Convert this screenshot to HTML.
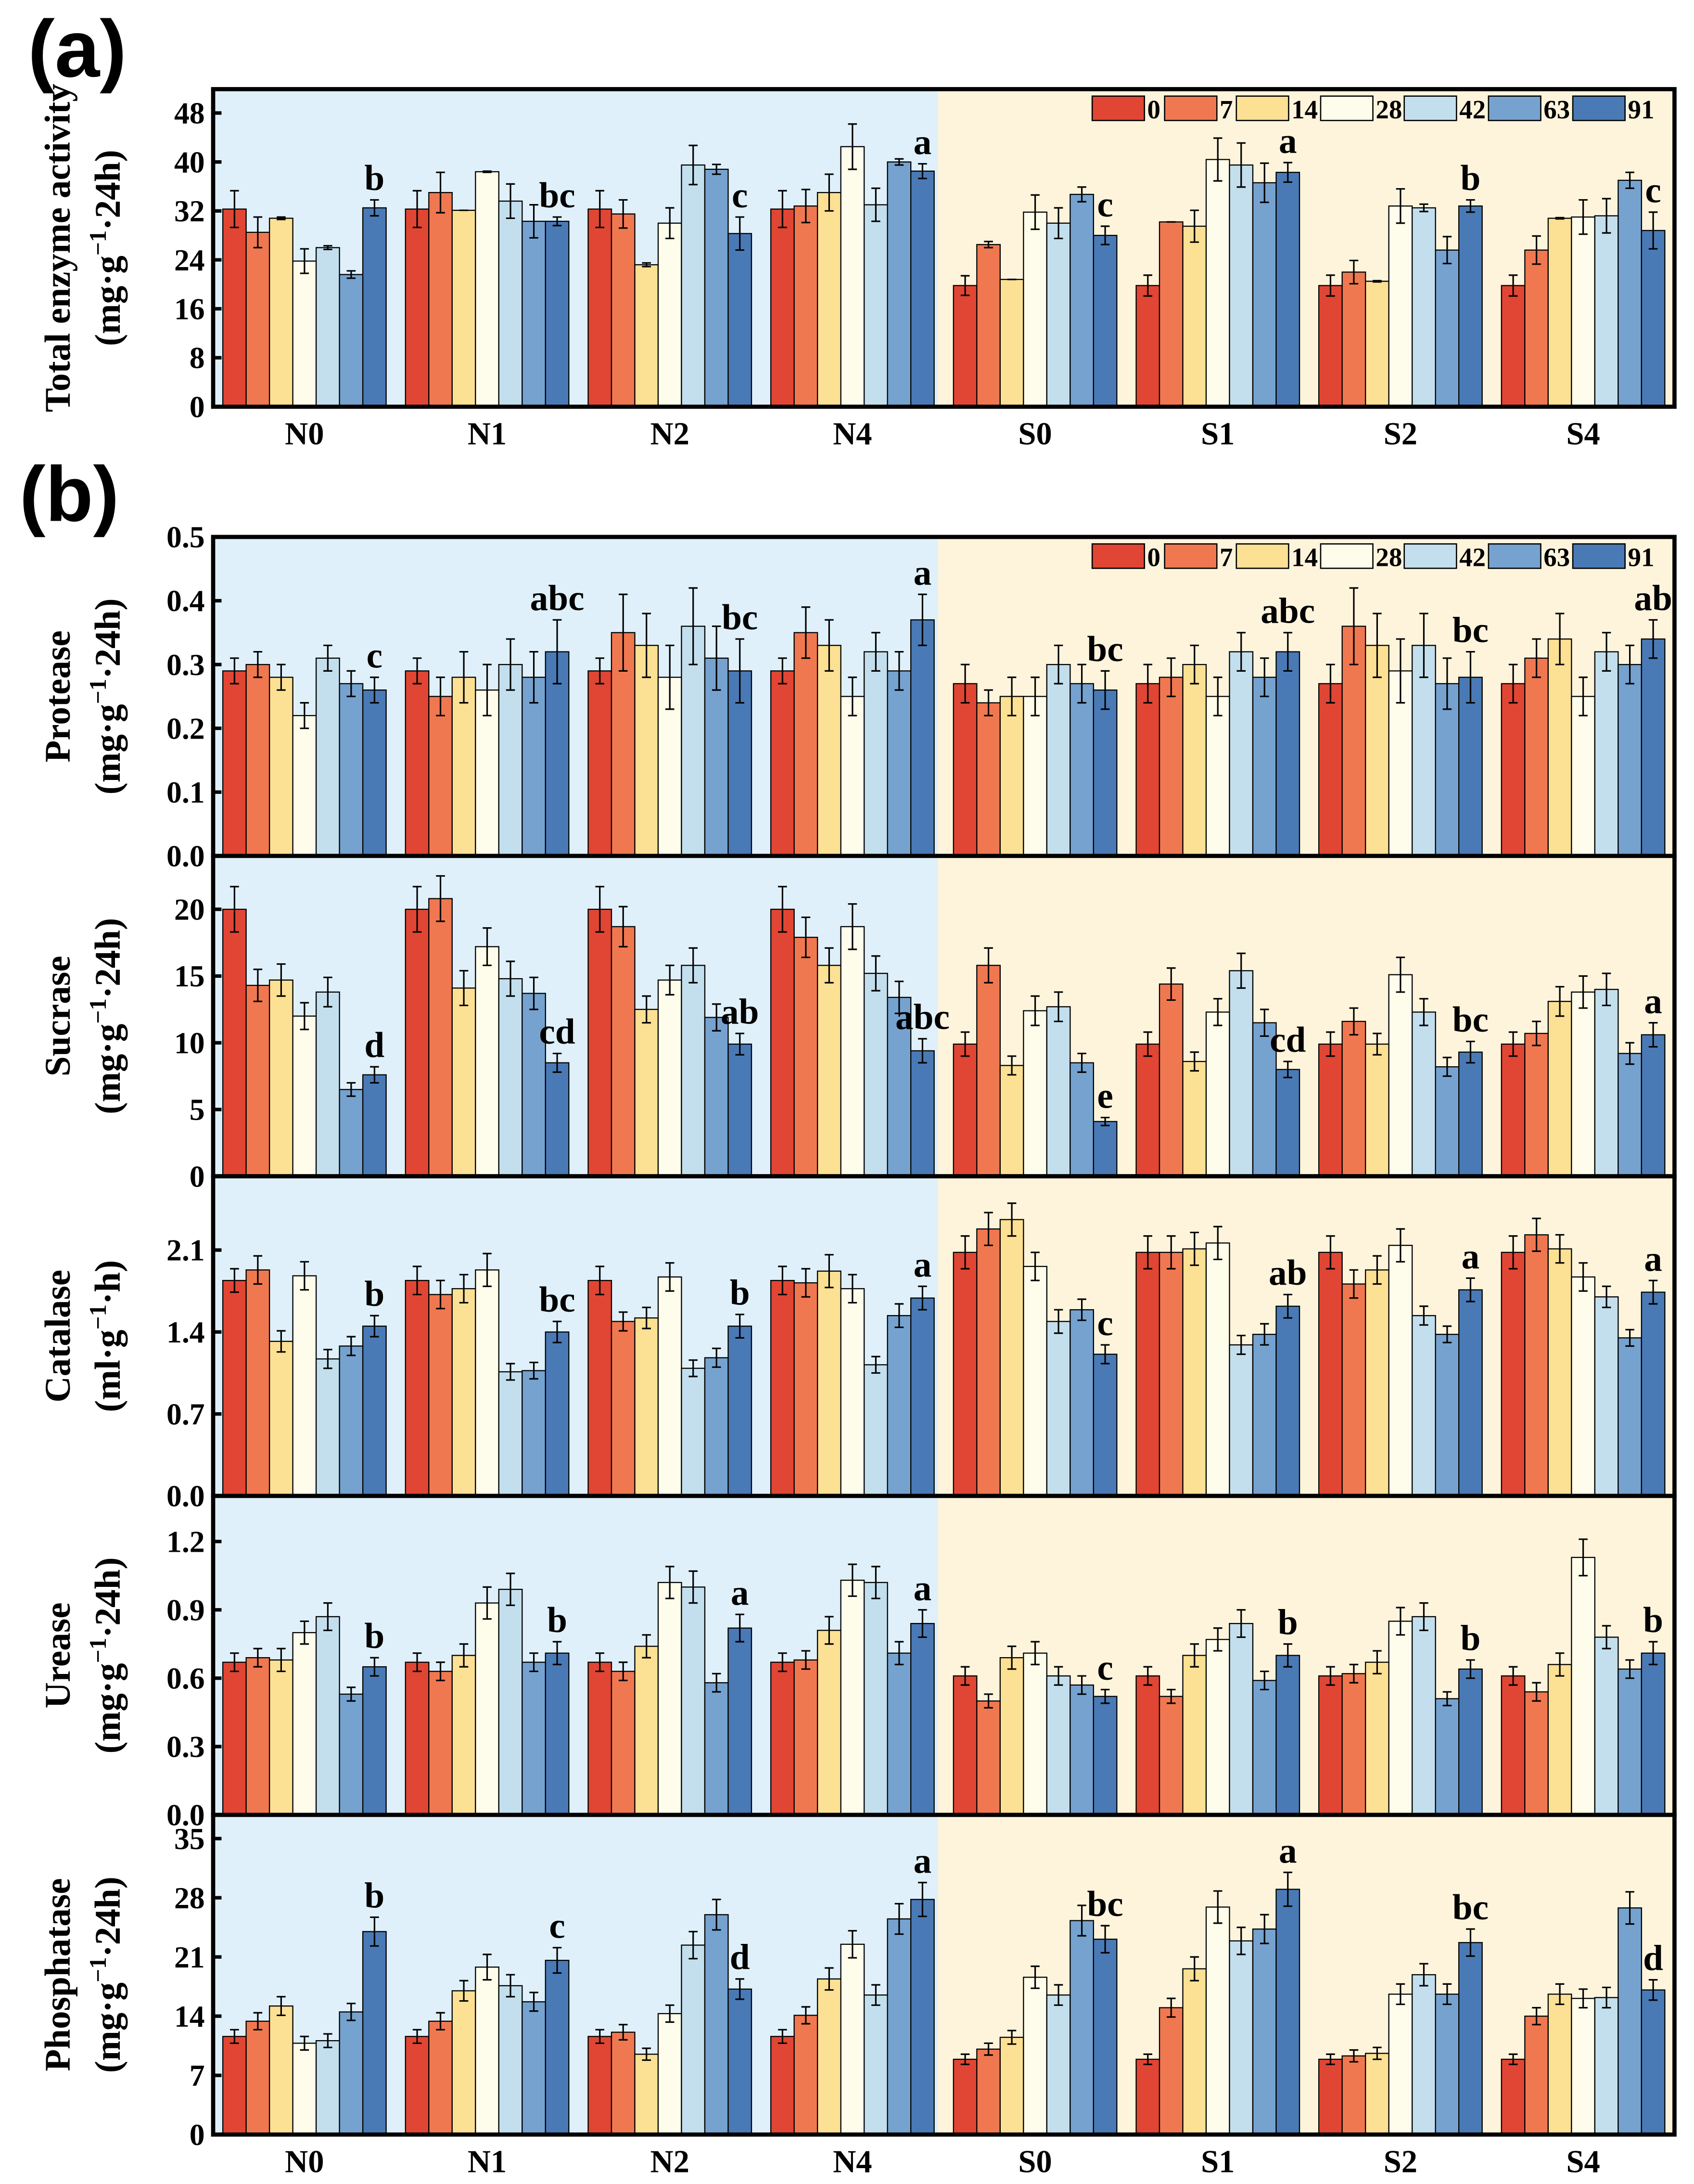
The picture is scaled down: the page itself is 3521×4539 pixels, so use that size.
<!DOCTYPE html>
<html><head><meta charset="utf-8"><style>
html,body{margin:0;padding:0;background:#fff;}
svg{display:block;}
text{font-family:"Liberation Serif",serif;font-weight:bold;fill:#000;}
</style></head><body>
<svg id="fig" xmlns="http://www.w3.org/2000/svg" width="3521" height="4539" viewBox="0 0 1216 1568" preserveAspectRatio="none"></svg>
<script>
const groups = ["N0","N1","N2","N4","S0","S1","S2","S4"];
const days = ["0","7","14","28","42","63","91"];
const colors = ["#E04633","#F07850","#FCE093","#FEFDEB","#C3DFEE","#76A2CF","#4A7AB5"];

const totalVals = [[32.3,28.5,30.8,23.8,26,21.6,32.5],[32.3,35,32.1,38.4,33.6,30.3,30.3],[32.3,31.5,23.2,30,39.5,38.8,28.3],[32.3,32.8,35,42.5,33,40,38.5],[19.8,26.5,20.8,31.8,30,34.7,28],[19.8,30.2,29.5,40.4,39.5,36.6,38.3],[19.8,22,20.5,32.8,32.5,25.6,32.8],[19.8,25.6,30.8,31,31.2,37,28.8]];
const totalErr = [[3,2.5,0.2,2,0.3,0.6,1.3],[3,3.3,0,0.1,2.8,2.7,0.7],[3,2.3,0.3,2.5,3.2,0.8,2.7],[3,2.7,3,3.7,2.7,0.5,1.2],[1.6,0.5,0,2.8,2.5,1.2,1.5],[1.7,0,2.6,3.5,3.6,3.2,1.6],[1.7,1.9,0.1,2.8,0.6,2.2,1],[1.7,2.3,0.1,2.8,2.8,1.3,3]];
const totalLetters = ["b","bc","c","a","c","a","b","c"];

const proteaseVals = [[.29,.30,.28,.22,.31,.27,.26],[.29,.25,.28,.26,.30,.28,.32],[.29,.35,.33,.28,.36,.31,.29],[.29,.35,.33,.25,.32,.29,.37],[.27,.24,.25,.25,.30,.27,.26],[.27,.28,.30,.25,.32,.28,.32],[.27,.36,.33,.29,.33,.27,.28],[.27,.31,.34,.25,.32,.30,.34]];
const proteaseErr = [[.02,.02,.02,.02,.02,.02,.02],[.02,.03,.04,.04,.04,.04,.05],[.02,.06,.05,.05,.06,.05,.05],[.02,.04,.04,.03,.03,.03,.04],[.03,.02,.03,.03,.03,.03,.03],[.03,.03,.03,.03,.03,.03,.03],[.03,.06,.05,.05,.05,.04,.04],[.03,.03,.04,.03,.03,.03,.03]];
const proteaseLetters = ["c","abc","bc","a","bc","abc","bc","ab"];

const sucraseVals = [[20,14.3,14.7,12,13.8,6.5,7.6],[20,20.8,14.1,17.2,14.8,13.7,8.5],[20,18.7,12.5,14.7,15.8,11.9,9.9],[20,17.9,15.8,18.7,15.2,13.4,9.4],[9.9,15.8,8.3,12.4,12.7,8.5,4.1],[9.9,14.4,8.6,12.3,15.4,11.5,8],[9.9,11.6,9.9,15.1,12.3,8.2,9.3],[9.9,10.7,13.1,13.8,14,9.2,10.6]];
const sucraseErr = [[1.7,1.2,1.2,1,1.1,0.5,0.6],[1.7,1.7,1.3,1.4,1.3,1.2,0.7],[1.7,1.5,1,1.1,1.3,1,0.8],[1.7,1.5,1.3,1.7,1.3,1.2,0.9],[0.9,1.3,0.7,1.1,1.1,0.7,0.3],[0.9,1.2,0.7,1,1.3,1,0.6],[0.9,1,0.8,1.3,1,0.7,0.8],[0.9,0.9,1.1,1.2,1.2,0.8,0.9]];
const sucraseLetters = ["d","cd","ab","abc","e","cd","bc","a"];

const catalaseVals = [[1.84,1.93,1.32,1.88,1.17,1.28,1.45],[1.84,1.72,1.77,1.93,1.06,1.07,1.4],[1.84,1.49,1.52,1.87,1.09,1.18,1.45],[1.84,1.82,1.92,1.77,1.12,1.54,1.69],[2.08,2.28,2.36,1.96,1.49,1.59,1.21],[2.08,2.08,2.11,2.16,1.29,1.38,1.62],[2.08,1.81,1.93,2.14,1.54,1.38,1.76],[2.08,2.23,2.11,1.87,1.7,1.35,1.74]];
const catalaseErr = [[.1,.12,.09,.12,.08,.08,.09],[.12,.12,.12,.14,.07,.07,.09],[.12,.08,.09,.12,.07,.08,.1],[.12,.12,.14,.12,.07,.1,.1],[.14,.14,.14,.12,.1,.09,.08],[.14,.14,.14,.14,.08,.09,.1],[.14,.12,.12,.14,.08,.07,.1],[.14,.14,.12,.12,.09,.07,.1]];
const catalaseLetters = ["b","bc","b","a","c","ab","a","a"];

const ureaseVals = [[.67,.69,.68,.80,.87,.53,.65],[.67,.63,.70,.93,.99,.67,.71],[.67,.63,.74,1.02,1.00,.58,.82],[.67,.68,.81,1.03,1.02,.71,.84],[.61,.50,.69,.71,.61,.57,.52],[.61,.52,.70,.77,.84,.59,.70],[.61,.62,.67,.85,.87,.51,.64],[.61,.54,.66,1.13,.78,.64,.71]];
const ureaseErr = [[.04,.04,.05,.05,.06,.03,.04],[.04,.04,.05,.07,.07,.04,.05],[.04,.04,.05,.07,.07,.04,.06],[.04,.04,.06,.07,.07,.05,.06],[.04,.03,.05,.05,.04,.04,.03],[.04,.03,.05,.05,.06,.04,.05],[.04,.04,.05,.06,.06,.03,.04],[.04,.04,.05,.08,.05,.04,.05]];
const ureaseLetters = ["b","b","a","a","c","b","b","b"];

const phosVals = [[11.6,13.4,15.2,10.8,11.1,14.5,24],[11.6,13.4,17,19.8,17.6,15.7,20.6],[11.6,12.1,9.5,14.3,22.4,26,17.2],[11.6,14.1,18.4,22.5,16.5,25.5,27.8],[8.9,10.1,11.5,18.6,16.5,25.3,23.1],[8.9,15,19.6,26.9,22.9,24.3,29],[8.9,9.3,9.6,16.6,18.9,16.6,22.7],[8.9,14,16.6,16.1,16.2,26.8,17.1]];
const phosErr = [[.8,1,1.1,.8,.8,1,1.7],[.8,1,1.2,1.5,1.3,1.1,1.5],[.8,.9,.7,1,1.6,1.8,1.2],[.8,1,1.3,1.6,1.2,1.8,2],[.6,.7,.8,1.3,1.2,1.8,1.6],[.6,1.1,1.4,1.9,1.6,1.7,2],[.6,.7,.7,1.2,1.3,1.2,1.6],[.6,1,1.2,1.1,1.2,1.9,1.2]];
const phosLetters = ["b","c","d","a","bc","a","bc","d"];

const totalTicks = ["0","8","16","24","32","40","48"];
const proteaseTicks = ["0.0","0.1","0.2","0.3","0.4","0.5"];
const sucraseTicks = ["0","5","10","15","20"];
const catalaseTicks = ["0.0","0.7","1.4","2.1"];
const ureaseTicks = ["0.0","0.3","0.6","0.9","1.2"];
const phosTicks = ["0","7","14","21","28","35"];

const NS="http://www.w3.org/2000/svg";
const svg=document.getElementById('fig');
function mk(tag,attrs,parent){const e=document.createElementNS(NS,tag);for(const k in attrs)e.setAttribute(k,attrs[k]);(parent||svg).appendChild(e);return e;}
const X0=153,X1=1202,XM=673.3;
const GW=(X1-X0)/8, BW=16.75;
function xBar(g,b){return X0+GW*g+GW/2-3.5*BW+b*BW;}

function panel(name,top,bot,max,ticks,vals,errs,letters,t1,t2,legend,showX){
  const g=mk('g',{});
  
  
  const y=v=>bot-(v/max)*(bot-top);
  let r=mk('rect',{x:X0,y:top,width:XM-X0,height:bot-top,fill:'#DFF0FA'},g);
  
  r=mk('rect',{x:XM,y:top,width:X1-XM,height:bot-top,fill:'#FEF4DC'},g);
  
  for(let gi=0;gi<groups.length;gi++){
    for(let b=0;b<days.length;b++){
      const v=vals[gi][b],e=errs[gi][b],x=xBar(gi,b),yy=y(v);
      const rr=mk('rect',{x:x,y:yy,width:BW,height:bot-yy,fill:colors[b],stroke:'#000','stroke-width':0.8},g);
      
      
      const cx=x+BW/2;
      const eb=mk('path',{d:`M${cx},${y(v+e)}V${y(v-e)}M${cx-3.2},${y(v+e)}H${cx+3.2}M${cx-3.2},${y(v-e)}H${cx+3.2}`,stroke:'#000','stroke-width':1.1,fill:'none'},g);
      
      
    }
    const last=vals[gi][6]+errs[gi][6];
    const lt=mk('text',{x:xBar(gi,6)+BW/2,y:y(last)-7,'font-size':26,'text-anchor':'middle'},g);
    lt.textContent=letters[gi];
    
    
  }
  for(let i=0;i<ticks.length;i++){
    const v=parseFloat(ticks[i]),yy=y(v);
    const tk=mk('line',{x1:X0,x2:X0+6,y1:yy,y2:yy,stroke:'#000','stroke-width':2.5},g);
    
    const tl=mk('text',{x:X0-6,y:yy+7.5,'font-size':22,'text-anchor':'end'},g);
    tl.textContent=ticks[i];
    
  }
  const fr=mk('rect',{x:X0,y:top,width:X1-X0,height:bot-top,fill:'none',stroke:'#000','stroke-width':3},g);
  
  const cy=(top+bot)/2;
  const a1=mk('text',{x:0,y:0,'font-size':26,'text-anchor':'middle',transform:`translate(50,${cy}) rotate(-90)`},g);
  a1.textContent=t1;
  const a2=mk('text',{x:0,y:0,'font-size':26,'text-anchor':'middle',transform:`translate(86,${cy}) rotate(-90)`},g);
  a2.innerHTML=t2;
  if(legend){
    const lg=mk('g',{},g);
    
    const lx=[784,836,887.5,948,1008,1068.5,1129];
    for(let b=0;b<days.length;b++){
      const s=mk('rect',{x:lx[b],y:top+5,width:37.5,height:17.5,fill:colors[b],stroke:'#000','stroke-width':0.9},lg);
      
      const t=mk('text',{x:lx[b]+39.5,y:top+21,'font-size':19},lg);
      t.textContent=days[b];
    }
  }
  if(showX){
    for(let gi=0;gi<groups.length;gi++){
      const t=mk('text',{x:X0+GW*gi+GW/2,y:bot+27,'font-size':23,'text-anchor':'middle'},g);
      t.textContent=groups[gi];
    }
  }
}
const unitMg='(mg·g<tspan dy="-10" font-size="17">−1</tspan><tspan dy="10">·24h)</tspan>';
panel('total-enzyme',64,292,51.9,totalTicks,totalVals,totalErr,totalLetters,'Total enzyme activity',unitMg,true,true);
panel('protease',385.5,614.5,0.5,proteaseTicks,proteaseVals,proteaseErr,proteaseLetters,'Protease',unitMg,true,false);
panel('sucrase',614.5,844.5,24,sucraseTicks,sucraseVals,sucraseErr,sucraseLetters,'Sucrase',unitMg,false,false);
panel('catalase',844.5,1074,2.73,catalaseTicks,catalaseVals,catalaseErr,catalaseLetters,'Catalase','(ml·g<tspan dy="-10" font-size="17">−1</tspan><tspan dy="10">·h)</tspan>',false,false);
panel('urease',1074,1303,1.40,ureaseTicks,ureaseVals,ureaseErr,ureaseLetters,'Urease',unitMg,false,false);
panel('phosphatase',1303,1532.5,37.8,phosTicks,phosVals,phosErr,phosLetters,'Phosphatase',unitMg,false,true);
let pa=mk('text',{x:20,y:55,'font-size':58,style:'font-family:"Liberation Sans",sans-serif;font-weight:bold'});
pa.textContent='(a)';
let pb=mk('text',{x:14,y:374,'font-size':56,style:'font-family:"Liberation Sans",sans-serif;font-weight:bold'});
pb.textContent='(b)';
</script>
</body></html>
